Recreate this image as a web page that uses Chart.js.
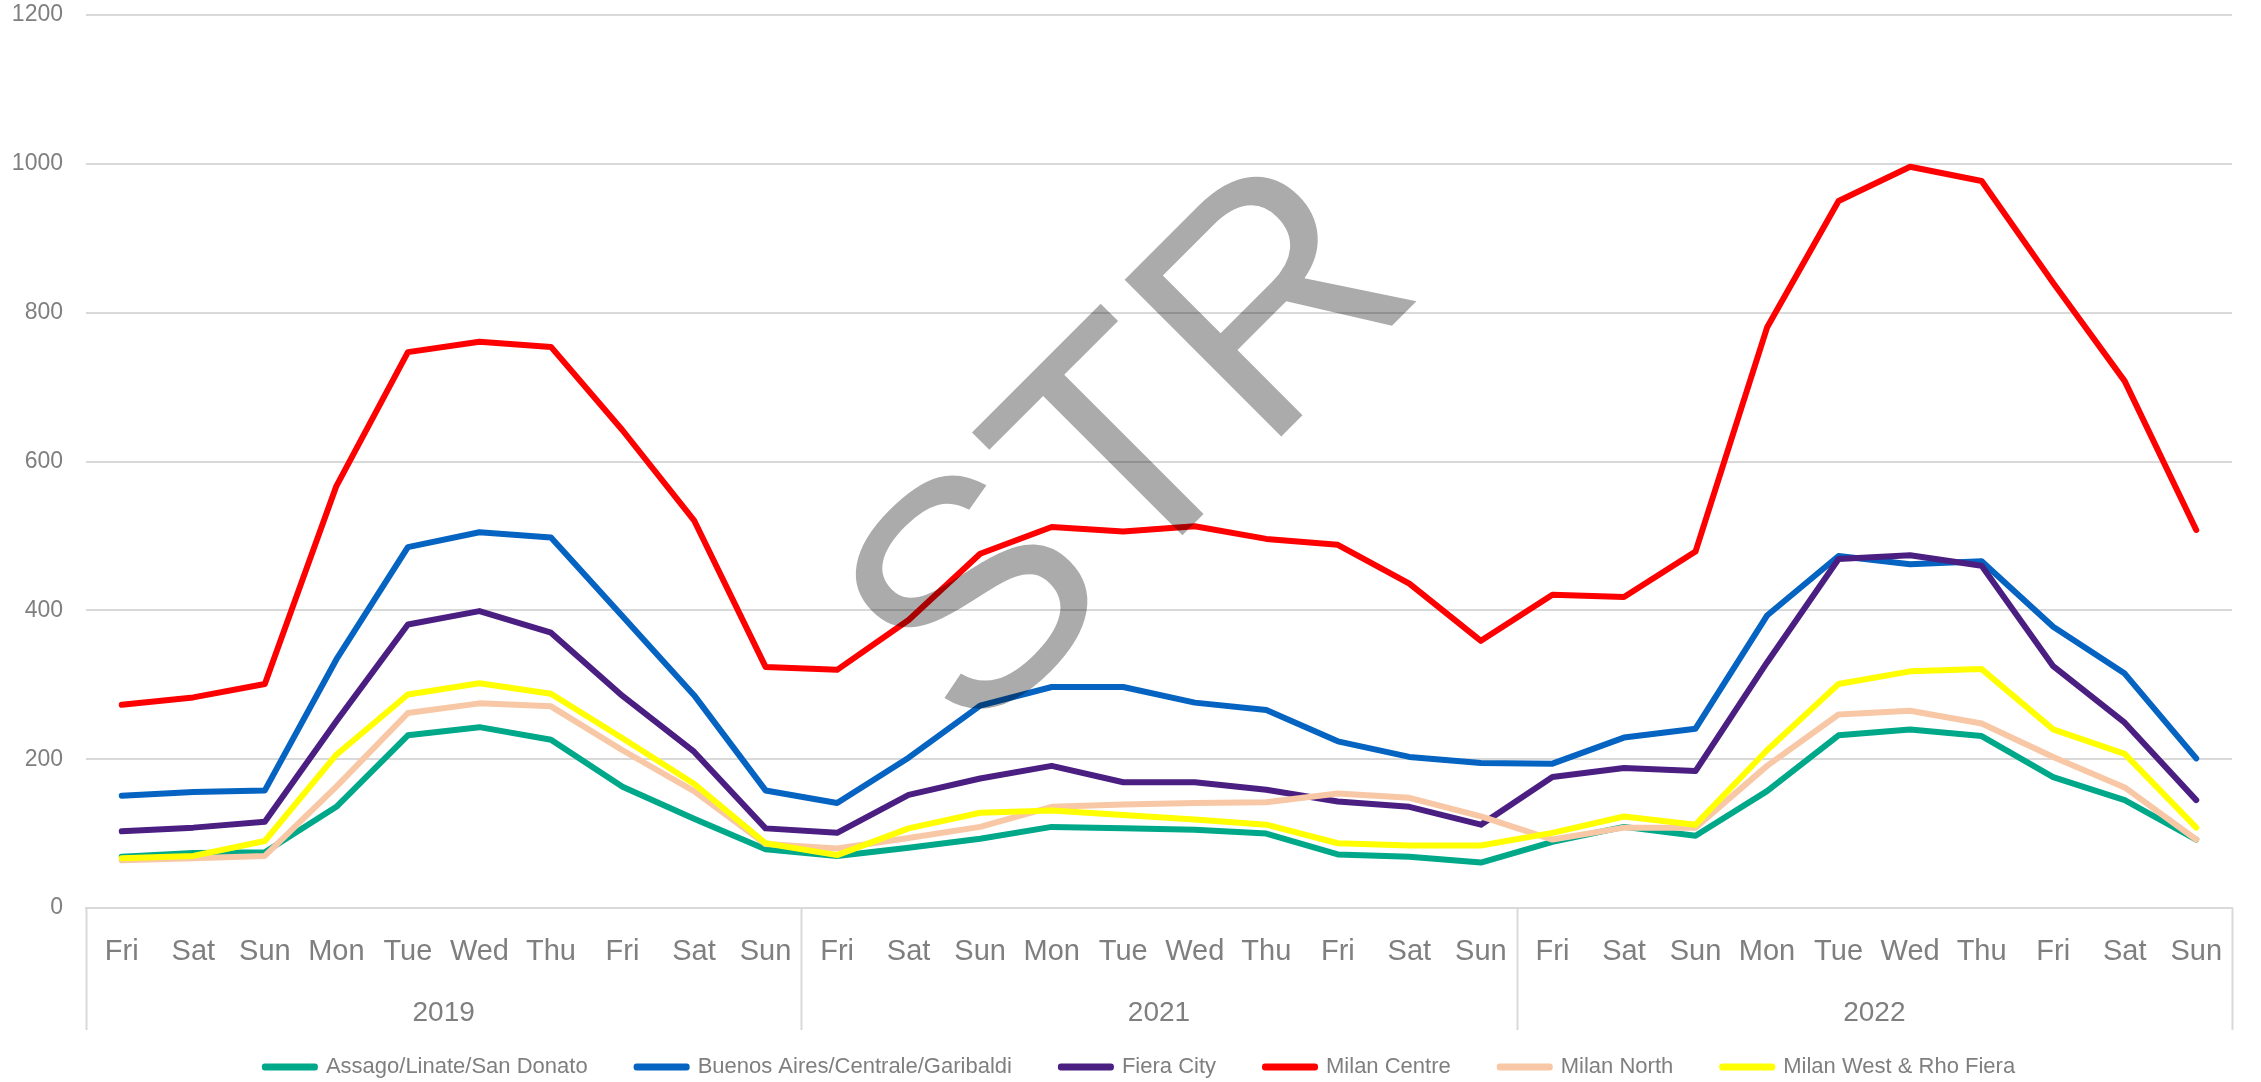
<!DOCTYPE html>
<html>
<head>
<meta charset="utf-8">
<title>Milan submarkets</title>
<script src="https://cdn.jsdelivr.net/npm/chart.js@4.4.1/dist/chart.umd.min.js"></script>
<style>
  html, body { margin: 0; padding: 0; background: #fff; }
  #wrap { width: 2261px; height: 1082px; }
</style>
</head>
<body>
<div id="wrap"><canvas id="lineChart" width="2261" height="1082"></canvas></div>
<script>
// days repeat for every year block
const days = ['Fri', 'Sat', 'Sun', 'Mon', 'Tue', 'Wed', 'Thu', 'Fri', 'Sat', 'Sun'];
const years = ['2019', '2021', '2022'];
const labels = years.flatMap(() => days);

const yTicks = [0, 200, 400, 600, 800, 1000, 1200];

const seriesNames = [
    'Assago/Linate/San Donato',
    'Buenos Aires/Centrale/Garibaldi',
    'Fiera City',
    'Milan Centre',
    'Milan North',
    'Milan West & Rho Fiera'
];

const assago = [69, 74, 75, 136, 232, 243, 226, 163, 120, 79,
                70, 81, 93, 109, 107, 105, 100, 72, 69, 61,
                89, 109, 97, 157, 232, 240, 231, 176, 145, 92];
const buenosAires = [151, 156, 158, 334, 485, 505, 498, 392, 286, 158,
                     141, 202, 272, 297, 297, 276, 266, 224, 203, 195,
                     194, 229, 241, 393, 473, 462, 466, 378, 315, 201];
const fieraCity = [103, 108, 116, 251, 381, 399, 370, 285, 210, 107,
                   101, 152, 174, 191, 169, 169, 159, 143, 136, 112,
                   176, 188, 184, 330, 469, 474, 460, 325, 249, 145];
const milanCentre = [273, 283, 301, 567, 747, 761, 754, 642, 521, 324,
                     320, 387, 476, 512, 506, 513, 496, 488, 436, 359,
                     421, 418, 479, 780, 950, 996, 977, 840, 708, 508];
const milanNorth = [64, 67, 70, 163, 262, 275, 271, 212, 157, 86,
                    80, 94, 109, 136, 139, 141, 142, 154, 148, 123,
                    92, 108, 108, 191, 260, 265, 248, 203, 162, 92];
const milanWest = [67, 70, 90, 206, 287, 302, 288, 228, 167, 87,
                   71, 107, 128, 131, 125, 119, 112, 87, 84, 84,
                   101, 123, 112, 212, 301, 318, 321, 240, 207, 108];

const seriesData = [assago, buenosAires, fieraCity, milanCentre, milanNorth, milanWest];
const seriesColors = ['#00A88A', '#0563C1', '#4B1E82', '#FF0000', '#F8C8A6', '#FFFF00'];

const FONT = "'Liberation Sans', Arial, sans-serif";
const TEXT_GRAY = '#7f7f7f';
const LINE_GRAY = '#d9d9d9';

// year row + the boxes of the two-level category axis
const yearAxisPlugin = {
    id: 'yearAxis',
    afterLayout(chart) {
        // legend centring counts the trailing padding, nudge it back
        chart.legend.left += 48;
    },
    afterDraw(chart) {
        const ctx = chart.ctx;
        const x = chart.scales.x;
        const area = chart.chartArea;
        const per = days.length;
        const edges = [area.left];
        for (let g = 1; g < years.length; g++) {
            edges.push((x.getPixelForValue(g * per - 1) + x.getPixelForValue(g * per)) / 2);
        }
        edges.push(area.right);

        ctx.save();
        ctx.strokeStyle = LINE_GRAY;
        ctx.lineWidth = 2;
        edges.forEach(ex => {
            ctx.beginPath();
            ctx.moveTo(Math.round(ex) + 0.5, area.bottom);
            ctx.lineTo(Math.round(ex) + 0.5, area.bottom + 122);
            ctx.stroke();
        });
        ctx.fillStyle = TEXT_GRAY;
        ctx.font = '28px ' + FONT;
        ctx.textAlign = 'center';
        ctx.textBaseline = 'middle';
        years.forEach((yr, i) => {
            ctx.fillText(yr, (edges[i] + edges[i + 1]) / 2, area.bottom + 105);
        });
        ctx.restore();
    }
};

// STR watermark over the lines
const watermarkPlugin = {
    id: 'watermark',
    afterDatasetsDraw(chart) {
        const ctx = chart.ctx;
        ctx.save();
        ctx.translate(1118, 437);
        ctx.rotate(-Math.PI / 4);
        ctx.fillStyle = 'rgba(0, 0, 0, 0.33)';
        ctx.font = "322px 'Liberation Sans', Arial, sans-serif";
        ctx.textAlign = 'center';
        ctx.textBaseline = 'alphabetic';
        ctx.fillText('STR', 0, 115);
        ctx.restore();
    }
};

const datasets = seriesNames.map((name, i) => ({
    label: name,
    data: seriesData[i],
    borderColor: seriesColors[i],
    backgroundColor: seriesColors[i],
    borderWidth: 6,
    borderCapStyle: 'round',
    borderJoinStyle: 'round',
    pointRadius: 0,
    tension: 0,
    fill: false,
    order: seriesNames.length - i   // later series drawn on top, like the original
}));

new Chart(document.getElementById('lineChart').getContext('2d'), {
    type: 'line',
    data: { labels: labels, datasets: datasets },
    options: {
        responsive: false,
        animation: false,
        devicePixelRatio: 1,
        layout: { padding: { left: 0, right: 29, top: 15, bottom: -6 } },
        scales: {
            x: {
                offset: true,
                grid: { display: false, drawTicks: false },
                border: { display: true, color: LINE_GRAY, width: 2 },
                ticks: {
                    color: TEXT_GRAY,
                    font: { family: FONT, size: 29 },
                    padding: 27,
                    maxRotation: 0,
                    autoSkip: false
                },
                afterFit(scale) { scale.height = 99; }
            },
            y: {
                min: 0,
                max: 1200,
                afterBuildTicks(scale) { scale.ticks = yTicks.map(v => ({ value: v })); },
                grid: { color: LINE_GRAY, lineWidth: 2, drawTicks: false },
                border: { display: false },
                ticks: {
                    color: TEXT_GRAY,
                    font: { family: FONT, size: 23 },
                    padding: 23,
                    callback: v => String(v)
                },
                afterFit(scale) {
                    scale.width = 86;
                    // tick padding should not push the plot down
                    scale.paddingTop = 0;
                    scale.paddingBottom = 0;
                }
            }
        },
        plugins: {
            legend: {
                position: 'bottom',
                reverse: true,
                labels: {
                    color: TEXT_GRAY,
                    font: { family: FONT, size: 22 },
                    boxWidth: 50,
                    boxHeight: 1,
                    padding: 49
                }
            },
            tooltip: { enabled: false }
        }
    },
    plugins: [yearAxisPlugin, watermarkPlugin]
});
</script>
</body>
</html>
